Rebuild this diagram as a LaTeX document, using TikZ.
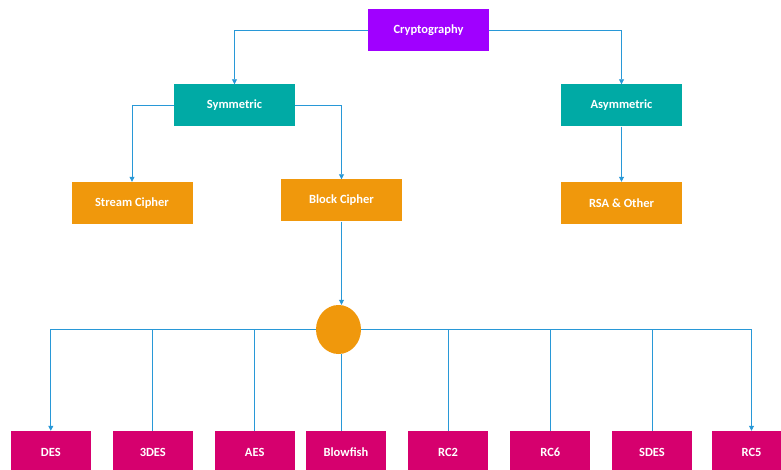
\documentclass[tikz,border=0pt]{standalone}
\usepackage{fontspec}
\setmainfont{Carlito}
\usetikzlibrary{arrows.meta,shapes.geometric}
\definecolor{cryptcol}{RGB}{160,0,255}
\definecolor{tealcol}{RGB}{0,170,165}
\definecolor{orangecol}{RGB}{240,152,12}
\definecolor{pinkcol}{RGB}{214,0,110}
\definecolor{linecol}{RGB}{40,152,215}
\tikzset{
  box/.style={draw=none, text=white, font=\bfseries\fontsize{12.5}{14}\selectfont,
    minimum width=121pt, minimum height=42pt, inner sep=0pt},
  algbox/.style={box, fill=pinkcol, minimum width=80pt},
  link/.style={draw=linecol, line width=0.8pt},
  arr/.style={link, -{Triangle[width=5pt,length=5pt]}}
}

\begin{document}
\begin{tikzpicture}[x=1pt,y=-1pt]
\useasboundingbox (0,0) rectangle (781,470);
\node[box, fill=cryptcol] (crypto) at (428.5,30) {Cryptography};
\node[box, fill=tealcol] (sym) at (234.5,105.5) {Symmetric};
\node[box, fill=tealcol] (asym) at (621.5,105.5) {Asymmetric};
\node[box, fill=orangecol] (stream) at (132,203) {Stream Cipher};
\node[box, fill=orangecol] (block) at (341.5,200.5) {Block Cipher};
\node[box, fill=orangecol] (rsa) at (621.5,203) {RSA \& Other};
\node[ellipse, fill=orangecol, minimum width=45pt, minimum height=49pt, inner sep=0pt] (hub) at (338.5,329.5) {};
\foreach \x/\name/\txt in {50.8/des/DES, 152.8/tdes/3DES, 254.7/aes/AES, 346/blow/Blowfish,
  448/rctwo/RC2, 550.3/rcsix/RC6, 652/sdes/SDES, 751.5/rcfive/RC5}
  \node[algbox] (\name) at (\x,452) {\txt};

\draw[arr] (crypto.west) -| (sym.north);
\draw[arr] (crypto.east) -| (asym.north);
\draw[arr] (sym.west) -| (stream.north);
\draw[arr] (sym.east) -| (block.north);
\draw[arr] (asym) -- (rsa);
\draw[arr] (block.south) -- (block.south |- hub.north);
\draw[arr] (hub.west) -| (des.north);
\draw[arr] (hub.east) -| (rcfive.north);
\foreach \name in {tdes,aes,rctwo,rcsix,sdes}
  \draw[link] (\name.north) -- (\name.north |- hub);
\draw[link] (block.south |- hub.south) -- (block.south |- blow.north);
\end{tikzpicture}
\end{document}
